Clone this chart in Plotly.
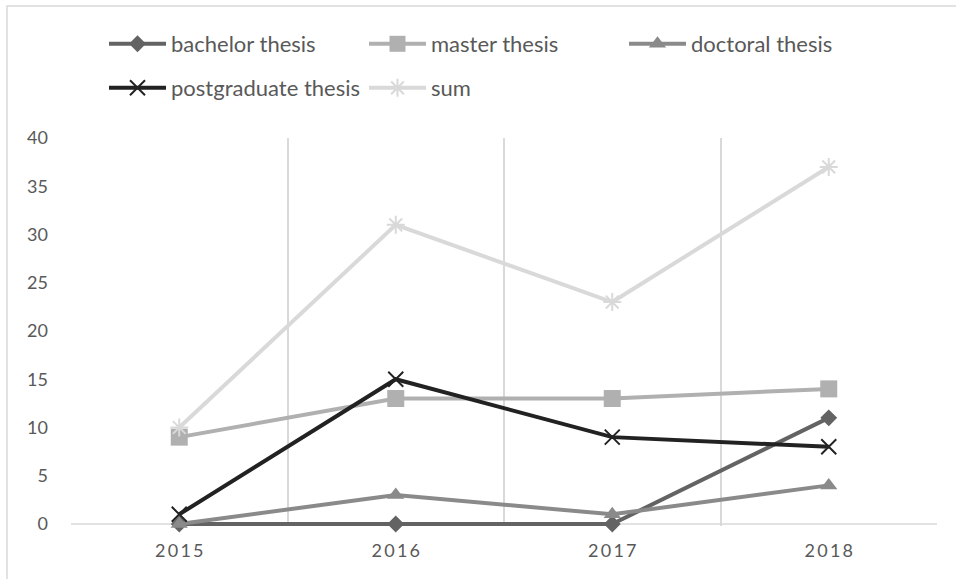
import plotly.graph_objects as go

years = ["2015", "2016", "2017", "2018"]
year_labels = ["2\u20090\u20091\u20095", "2\u20090\u20091\u20096", "2\u20090\u20091\u20097", "2\u20090\u20091\u20098"]
bachelor = [0, 0, 0, 11]
master = [9, 13, 13, 14]
doctoral = [0, 3, 1, 4]
postgraduate = [1, 15, 9, 8]
total = [10, 31, 23, 37]
y_ticks = [0, 5, 10, 15, 20, 25, 30, 35, 40]

FONT = "Lato"
TXT = "#595959"

W, H = 956, 579
L, R, T, B = 71, 19, 138, 53
pw, ph = W - L - R, H - T - B
Y_MIN = -0.21


def px_x(x):
    return (x - L) / pw


def px_y(y):
    return (H - B - y) / ph


fig = go.Figure()
series = [
    ("bachelor thesis", bachelor, "#636363", dict(symbol="diamond", size=13, color="#636363"), "legend"),
    ("master thesis", master, "#b0b0b0", dict(symbol="square", size=17, color="#b0b0b0"), "legend"),
    ("doctoral thesis", doctoral, "#8a8a8a", dict(symbol="triangle-up", size=15, color="#8a8a8a"), "legend"),
    ("postgraduate thesis", postgraduate, "#222222",
     dict(symbol="x-thin-open", size=15, color="#222222", line=dict(color="#222222", width=2)), "legend2"),
    ("sum", total, "#d9d9d9",
     dict(symbol="asterisk-open", size=15, color="#d9d9d9", line=dict(color="#d9d9d9", width=2)), "legend2"),
]
for name, vals, col, mk, lg in series:
    fig.add_trace(go.Scatter(
        x=years, y=vals, name=name, mode="lines+markers",
        line=dict(color=col, width=4), marker=mk, legend=lg,
        cliponaxis=False,
    ))

leg_common = dict(
    orientation="h", x=px_x(104), xanchor="left", yanchor="middle",
    entrywidth=188, itemwidth=57, font=dict(family=FONT, size=22, color=TXT),
    bgcolor="rgba(0,0,0,0)",
)
fig.update_layout(
    width=W, height=H,
    margin=dict(l=L, r=R, t=T, b=B, autoexpand=False),
    paper_bgcolor="white", plot_bgcolor="white",
    font=dict(family=FONT, size=18, color=TXT),
    showlegend=True,
    legend=dict(y=px_y(44), **leg_common),
    legend2=dict(y=px_y(88), **leg_common),
    xaxis=dict(
        type="category", categoryorder="array", categoryarray=years,
        tickvals=years, ticktext=year_labels,
        tickson="boundaries", showgrid=True, gridcolor="#d9d9d9", gridwidth=1.5,
        ticks="", showline=False, zeroline=False,
        tickfont=dict(family=FONT, size=18, color=TXT),
        ticklabelstandoff=12,
        range=[-0.5, 3.5],
    ),
    yaxis=dict(
        range=[Y_MIN, 40], tickvals=y_ticks, showgrid=False, zeroline=False,
        showline=False, ticks="", tickfont=dict(family=FONT, size=18, color=TXT),
        ticklabelstandoff=22,
    ),
    shapes=[
        dict(type="line", xref="paper", yref="y", x0=0, x1=1, y0=0, y1=0,
             line=dict(color="#d9d9d9", width=1.5), layer="below"),
        dict(type="rect", xref="paper", yref="paper",
             x0=px_x(7), x1=px_x(980), y0=px_y(600), y1=px_y(6),
             line=dict(color="#d9d9d9", width=1.5), layer="below"),
    ],
)

fig.write_html("out.html", config={"displayModeBar": False},
               post_script="document.body.style.margin='0';")
